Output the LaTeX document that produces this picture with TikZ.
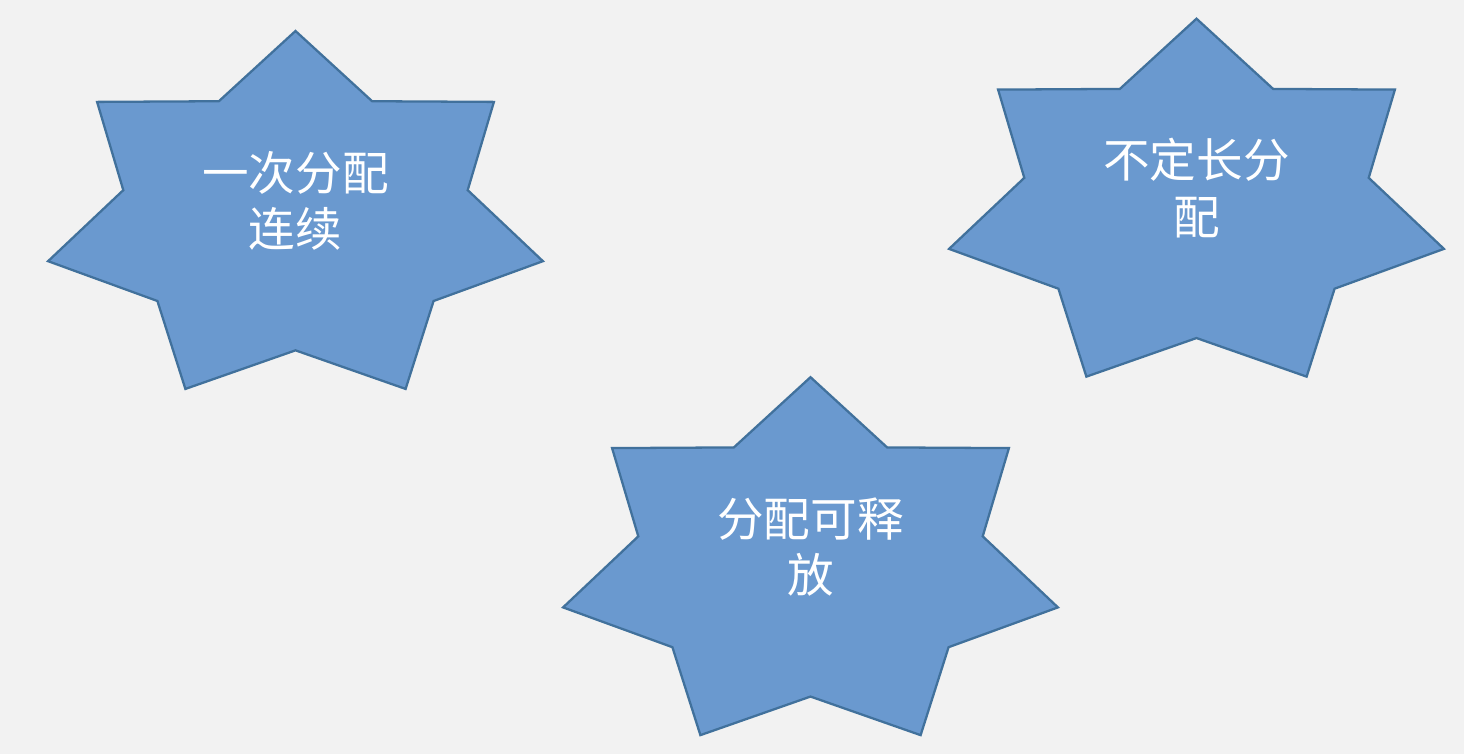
\documentclass[tikz,border=0pt]{standalone}
\usepackage{fontspec}
\newfontfamily\cjk{Noto Sans CJK SC}
\definecolor{starfill}{RGB}{106,153,207}
\definecolor{starline}{RGB}{65,113,156}
\definecolor{bgray}{RGB}{242,242,242}
\tikzset{
  starshape/.style={fill=starfill,draw=starline,line width=1.3pt,line join=miter},
  starlabel/.style={text=white,align=center,inner sep=0pt,font=\cjk\fontsize{26.5}{32}\selectfont}
}

\begin{document}
\begin{tikzpicture}[x=0.02cm,y=0.02cm]
  \fill[bgray] (0,0) rectangle (1464,754);
  \foreach \cx/\cy in {295.5/534.7,1196.5/547,810.5/188.5}
    \draw[starshape,shift={(\cx,\cy)},xscale=253.8,yscale=188.3] (90:1)
      \foreach \i in {1,...,13} { -- ({90-\i*180/7}:{mod(\i,2)==1 ? 0.696 : 1}) } -- cycle;
  \node[starlabel] (once) at (295.5,553) {一次分配\\连续};
  \node[starlabel] (varlen) at (1196.5,566) {不定长分\\配};
  \node[starlabel] (free) at (810.5,207) {分配可释\\放};
\end{tikzpicture}
\end{document}
